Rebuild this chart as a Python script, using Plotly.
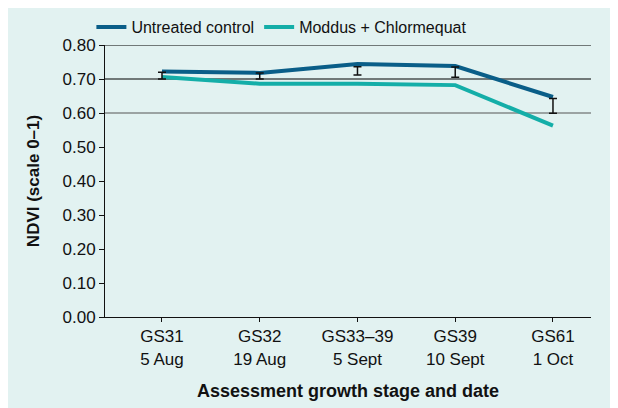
import plotly.graph_objects as go

stages = ["GS31<br>5 Aug", "GS32<br>19 Aug", "GS33–39<br>5 Sept", "GS39<br>10 Sept", "GS61<br>1 Oct"]
untreated = [0.722, 0.718, 0.744, 0.738, 0.647]
moddus = [0.706, 0.686, 0.686, 0.682, 0.563]
err_centre = [0.710, 0.709, 0.724, 0.720, 0.621]
err_half = [0.010, 0.009, 0.012, 0.015, 0.022]
grid_levels = [0.60, 0.70, 0.80]
y_ticks = [0.0, 0.1, 0.2, 0.3, 0.4, 0.5, 0.6, 0.7, 0.8]

xpos = list(range(len(stages)))
FONT = "Liberation Sans, Arial, Helvetica, sans-serif"
BG = "#e2f2f1"

fig = go.Figure()
fig.add_trace(go.Scatter(x=xpos, y=untreated, mode="lines", name="Untreated control",
                         line=dict(color="#0a5e88", width=4)))
fig.add_trace(go.Scatter(x=xpos, y=moddus, mode="lines", name="Moddus + Chlormequat",
                         line=dict(color="#14aea8", width=4)))
fig.add_trace(go.Scatter(x=xpos, y=err_centre, mode="markers", showlegend=False,
                         marker=dict(size=1, color="rgba(0,0,0,0)"),
                         error_y=dict(type="data", array=err_half, color="#111111",
                                      thickness=1.5, width=4)))

shapes = []
for g in grid_levels:
    shapes.append(dict(type="line", xref="paper", yref="y", x0=0, x1=1, y0=g, y1=g,
                       line=dict(color="#000000" if g > 0.65 else "#555555", width=1), layer="below"))

fig.update_layout(
    width=618, height=408,
    margin=dict(l=97, r=35, t=37, b=99, autoexpand=False),
    paper_bgcolor=BG, plot_bgcolor=BG,
    font=dict(family=FONT, size=17, color="#111111"),
    shapes=shapes,
    showlegend=True,
    legend=dict(orientation="h", x=-0.028, xanchor="left", y=1.128, yanchor="top",
                font=dict(size=16, color="#111111"), bgcolor="rgba(0,0,0,0)",
                itemwidth=30, tracegroupgap=0),
    xaxis=dict(range=[-0.583, 4.389], tickvals=xpos, ticktext=stages,
               showgrid=False, zeroline=False, showline=True, linecolor="#111111", linewidth=1,
               ticks="outside", ticklen=4, tickcolor="#111111",
               tickfont=dict(size=17),
               title=dict(text="<b>Assessment growth stage and date</b>", font=dict(size=18), standoff=16)),
    yaxis=dict(range=[0, 0.8], tickvals=y_ticks, tickformat=".2f",
               showgrid=False, zeroline=False, showline=True, linecolor="#111111", linewidth=1,
               ticks="outside", ticklen=5, tickcolor="#111111",
               tickfont=dict(size=17),
               title=dict(text="<b>NDVI (scale 0–1)</b>", font=dict(size=17), standoff=18)),
)

fig.write_html("out.html")
